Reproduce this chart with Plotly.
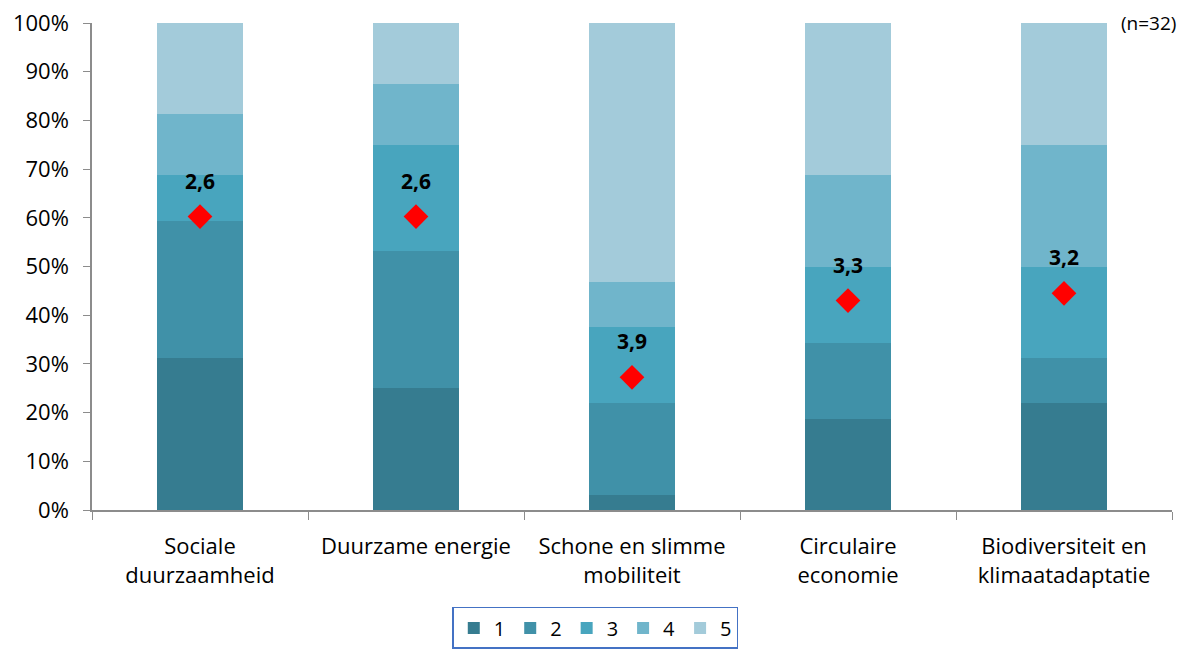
import plotly.graph_objects as go

categories = ["Sociale<br>duurzaamheid", "Duurzame energie", "Schone en slimme<br>mobiliteit",
              "Circulaire<br>economie", "Biodiversiteit en<br>klimaatadaptatie"]
series_names = ["1", "2", "3", "4", "5"]
# percentages per score (n=32)
s1 = [31.25, 25.0, 3.125, 18.75, 21.875]
s2 = [28.125, 28.125, 18.75, 15.625, 9.375]
s3 = [9.375, 21.875, 15.625, 15.625, 18.75]
s4 = [12.5, 12.5, 9.375, 18.75, 25.0]
s5 = [18.75, 12.5, 53.125, 31.25, 25.0]
mean_labels = ["2,6", "2,6", "3,9", "3,3", "3,2"]
mean_values = [2.59, 2.59, 3.91, 3.28, 3.22]
colors = ["#367C90", "#4091A8", "#48A5BE", "#70B5CB", "#A3CBDA"]

FONT = "Open Sans"
fig = go.Figure()
for name, vals, col in zip(series_names, [s1, s2, s3, s4, s5], colors):
    fig.add_trace(go.Bar(x=categories, y=vals, name=name, marker_color=col,
                         marker_line_width=0, width=0.4))

# mean marker position on the 0-100% scale
mean_pos = [(5 - m) / 4 * 100 for m in mean_values]
fig.add_trace(go.Scatter(x=categories, y=mean_pos, mode="markers", showlegend=False,
                         marker=dict(symbol="diamond", size=19, color="#FF0000")))
for c, p, lab in zip(categories, mean_pos, mean_labels):
    fig.add_annotation(x=c, y=p, text="<b>" + lab + "</b>", showarrow=False, yshift=36,
                       font=dict(family=FONT, size=21, color="#000000"))

fig.add_annotation(xref="paper", yref="paper", x=1.0056, y=1.0, xanchor="right", yanchor="middle",
                   text="(n=32)", showarrow=False,
                   font=dict(family=FONT, size=19, color="#000000"))

fig.update_layout(
    barmode="stack",
    width=1189, height=652,
    margin=dict(l=84, r=25, t=15, b=150, autoexpand=False),
    plot_bgcolor="white", paper_bgcolor="white",
    font=dict(family=FONT, size=22, color="#000000"),
    bargap=0.6,
    legend=dict(orientation="h", x=0.466, xanchor="center", y=-0.199, yanchor="top",
                bordercolor="#4472C4", borderwidth=1.5, font=dict(size=20),
                itemwidth=30, traceorder="normal"),
    xaxis=dict(showline=True, linecolor="#8C8C8C", linewidth=1.5, ticks="outside",
               tickson="boundaries", ticklen=8, tickcolor="#8C8C8C", tickfont=dict(size=22),
               automargin=False, ticklabelstandoff=16),
    yaxis=dict(range=[0, 100], dtick=10, ticksuffix="%", showgrid=False, showline=True,
               linecolor="#8C8C8C", linewidth=1.5, ticks="outside", ticklen=7,
               tickcolor="#8C8C8C", tickfont=dict(size=22), zeroline=False,
               automargin=False, ticklabelstandoff=10, ticklabeloverflow="allow"),
)
fig.write_html("out.html")
